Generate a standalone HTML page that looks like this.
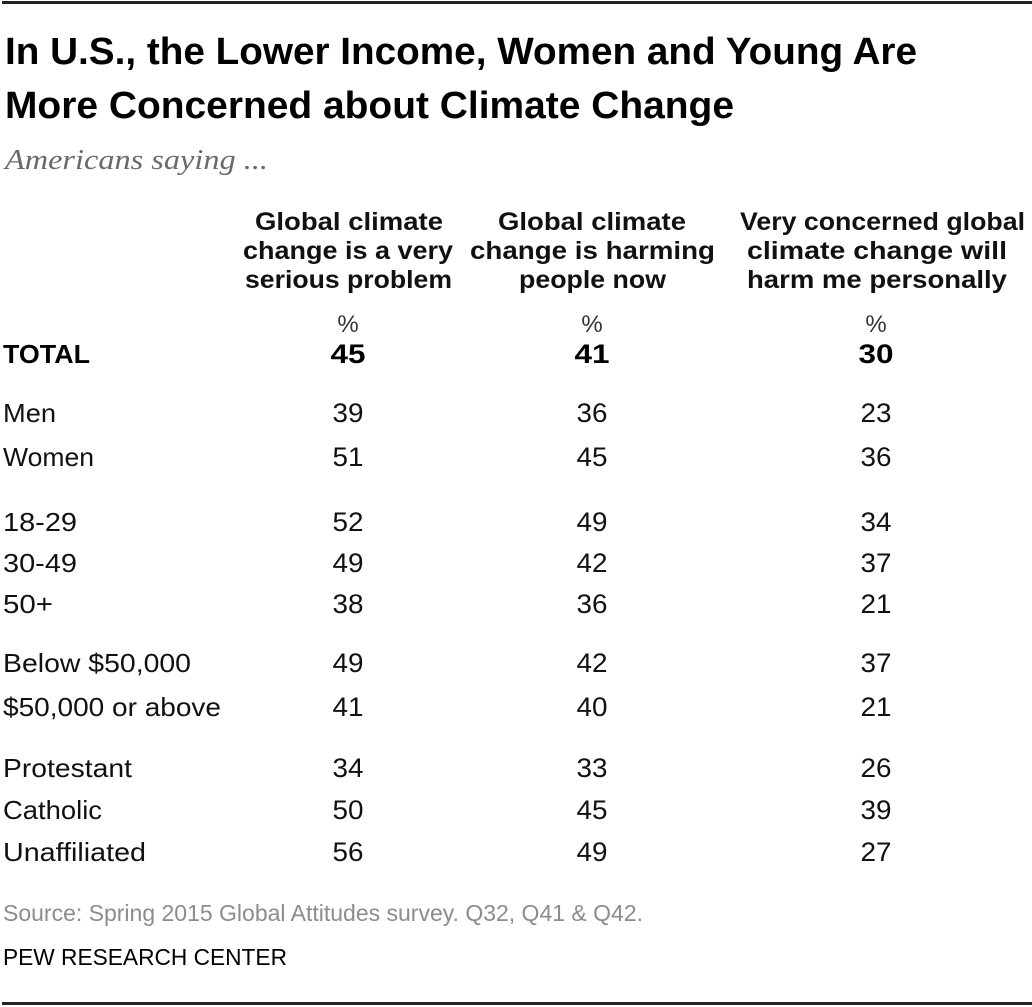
<!DOCTYPE html>
<html>
<head>
<meta charset="utf-8">
<style>
  html,body{margin:0;padding:0;background:#fff;}
  svg{display:block;}
  .t{font-family:"Liberation Sans",Arial,sans-serif;font-weight:bold;fill:#000;}
  .sub{font-family:"Liberation Serif",Georgia,serif;font-style:italic;fill:#6a6a6a;}
  .h{font-family:"Liberation Sans",Arial,sans-serif;font-weight:bold;fill:#111;font-size:25px;}
  .pc{font-family:"Liberation Sans",Arial,sans-serif;fill:#333;font-size:24px;}
  .l{font-family:"Liberation Sans",Arial,sans-serif;fill:#111;font-size:26px;}
  .v{font-family:"Liberation Sans",Arial,sans-serif;fill:#111;font-size:27px;}
  .b{font-weight:bold;fill:#000;}
  .src{font-family:"Liberation Sans",Arial,sans-serif;fill:#8c8c8c;font-size:23px;}
  .pew{font-family:"Liberation Sans",Arial,sans-serif;fill:#000;font-size:23px;}
</style>
</head>
<body>
<svg width="1032" height="1007" viewBox="0 0 1032 1007" xmlns="http://www.w3.org/2000/svg">
  <rect x="0" y="0" width="1032" height="1007" fill="#fff"/>
  <rect x="2" y="1" width="1030" height="3" fill="#222"/>
  <rect x="2" y="1002" width="1030" height="3" fill="#222"/>

  <text class="t" x="5" y="64" font-size="38" textLength="912" lengthAdjust="spacingAndGlyphs">In U.S., the Lower Income, Women and Young Are</text>
  <text class="t" x="5" y="118" font-size="38" textLength="729" lengthAdjust="spacingAndGlyphs">More Concerned about Climate Change</text>
  <text class="sub" x="5" y="169" font-size="28" textLength="263" lengthAdjust="spacingAndGlyphs">Americans saying ...</text>

  <text class="h" x="255" y="230" textLength="188" lengthAdjust="spacingAndGlyphs">Global climate</text>
  <text class="h" x="243" y="259" textLength="210" lengthAdjust="spacingAndGlyphs">change is a very</text>
  <text class="h" x="245" y="288" textLength="207" lengthAdjust="spacingAndGlyphs">serious problem</text>

  <text class="h" x="498" y="230" textLength="188" lengthAdjust="spacingAndGlyphs">Global climate</text>
  <text class="h" x="470" y="259" textLength="245" lengthAdjust="spacingAndGlyphs">change is harming</text>
  <text class="h" x="519" y="288" textLength="147" lengthAdjust="spacingAndGlyphs">people now</text>

  <text class="h" x="740" y="230" textLength="285" lengthAdjust="spacingAndGlyphs">Very concerned global</text>
  <text class="h" x="747" y="259" textLength="260" lengthAdjust="spacingAndGlyphs">climate change will</text>
  <text class="h" x="747" y="288" textLength="260" lengthAdjust="spacingAndGlyphs">harm me personally</text>

  <text class="pc" x="348" y="332" text-anchor="middle">%</text>
  <text class="pc" x="592" y="332" text-anchor="middle">%</text>
  <text class="pc" x="876" y="332" text-anchor="middle">%</text>

  <text class="l b" x="3" y="363" textLength="87" lengthAdjust="spacingAndGlyphs">TOTAL</text>
  <text class="v b" x="348" y="363" text-anchor="middle" textLength="35" lengthAdjust="spacingAndGlyphs">45</text>
  <text class="v b" x="592" y="363" text-anchor="middle" textLength="35" lengthAdjust="spacingAndGlyphs">41</text>
  <text class="v b" x="876" y="363" text-anchor="middle" textLength="35" lengthAdjust="spacingAndGlyphs">30</text>

  <g>
    <text class="l" x="3" y="422" textLength="53" lengthAdjust="spacingAndGlyphs">Men</text>
    <text class="v" x="348" y="422" text-anchor="middle" textLength="31" lengthAdjust="spacingAndGlyphs">39</text>
    <text class="v" x="592" y="422" text-anchor="middle" textLength="31" lengthAdjust="spacingAndGlyphs">36</text>
    <text class="v" x="876" y="422" text-anchor="middle" textLength="31" lengthAdjust="spacingAndGlyphs">23</text>

    <text class="l" x="3" y="466" textLength="91" lengthAdjust="spacingAndGlyphs">Women</text>
    <text class="v" x="348" y="466" text-anchor="middle" textLength="31" lengthAdjust="spacingAndGlyphs">51</text>
    <text class="v" x="592" y="466" text-anchor="middle" textLength="31" lengthAdjust="spacingAndGlyphs">45</text>
    <text class="v" x="876" y="466" text-anchor="middle" textLength="31" lengthAdjust="spacingAndGlyphs">36</text>

    <text class="l" x="3" y="531" textLength="74" lengthAdjust="spacingAndGlyphs">18-29</text>
    <text class="v" x="348" y="531" text-anchor="middle" textLength="31" lengthAdjust="spacingAndGlyphs">52</text>
    <text class="v" x="592" y="531" text-anchor="middle" textLength="31" lengthAdjust="spacingAndGlyphs">49</text>
    <text class="v" x="876" y="531" text-anchor="middle" textLength="31" lengthAdjust="spacingAndGlyphs">34</text>

    <text class="l" x="3" y="572" textLength="74" lengthAdjust="spacingAndGlyphs">30-49</text>
    <text class="v" x="348" y="572" text-anchor="middle" textLength="31" lengthAdjust="spacingAndGlyphs">49</text>
    <text class="v" x="592" y="572" text-anchor="middle" textLength="31" lengthAdjust="spacingAndGlyphs">42</text>
    <text class="v" x="876" y="572" text-anchor="middle" textLength="31" lengthAdjust="spacingAndGlyphs">37</text>

    <text class="l" x="3" y="613" textLength="50" lengthAdjust="spacingAndGlyphs">50+</text>
    <text class="v" x="348" y="613" text-anchor="middle" textLength="31" lengthAdjust="spacingAndGlyphs">38</text>
    <text class="v" x="592" y="613" text-anchor="middle" textLength="31" lengthAdjust="spacingAndGlyphs">36</text>
    <text class="v" x="876" y="613" text-anchor="middle" textLength="31" lengthAdjust="spacingAndGlyphs">21</text>

    <text class="l" x="3" y="672" textLength="188" lengthAdjust="spacingAndGlyphs">Below $50,000</text>
    <text class="v" x="348" y="672" text-anchor="middle" textLength="31" lengthAdjust="spacingAndGlyphs">49</text>
    <text class="v" x="592" y="672" text-anchor="middle" textLength="31" lengthAdjust="spacingAndGlyphs">42</text>
    <text class="v" x="876" y="672" text-anchor="middle" textLength="31" lengthAdjust="spacingAndGlyphs">37</text>

    <text class="l" x="3" y="716" textLength="218" lengthAdjust="spacingAndGlyphs">$50,000 or above</text>
    <text class="v" x="348" y="716" text-anchor="middle" textLength="31" lengthAdjust="spacingAndGlyphs">41</text>
    <text class="v" x="592" y="716" text-anchor="middle" textLength="31" lengthAdjust="spacingAndGlyphs">40</text>
    <text class="v" x="876" y="716" text-anchor="middle" textLength="31" lengthAdjust="spacingAndGlyphs">21</text>

    <text class="l" x="3" y="777" textLength="129" lengthAdjust="spacingAndGlyphs">Protestant</text>
    <text class="v" x="348" y="777" text-anchor="middle" textLength="31" lengthAdjust="spacingAndGlyphs">34</text>
    <text class="v" x="592" y="777" text-anchor="middle" textLength="31" lengthAdjust="spacingAndGlyphs">33</text>
    <text class="v" x="876" y="777" text-anchor="middle" textLength="31" lengthAdjust="spacingAndGlyphs">26</text>

    <text class="l" x="3" y="819" textLength="99" lengthAdjust="spacingAndGlyphs">Catholic</text>
    <text class="v" x="348" y="819" text-anchor="middle" textLength="31" lengthAdjust="spacingAndGlyphs">50</text>
    <text class="v" x="592" y="819" text-anchor="middle" textLength="31" lengthAdjust="spacingAndGlyphs">45</text>
    <text class="v" x="876" y="819" text-anchor="middle" textLength="31" lengthAdjust="spacingAndGlyphs">39</text>

    <text class="l" x="3" y="861" textLength="143" lengthAdjust="spacingAndGlyphs">Unaffiliated</text>
    <text class="v" x="348" y="861" text-anchor="middle" textLength="31" lengthAdjust="spacingAndGlyphs">56</text>
    <text class="v" x="592" y="861" text-anchor="middle" textLength="31" lengthAdjust="spacingAndGlyphs">49</text>
    <text class="v" x="876" y="861" text-anchor="middle" textLength="31" lengthAdjust="spacingAndGlyphs">27</text>
  </g>

  <text class="src" x="3" y="921" textLength="640" lengthAdjust="spacingAndGlyphs">Source: Spring 2015 Global Attitudes survey. Q32, Q41 &amp; Q42.</text>
  <text class="pew" x="3" y="965" textLength="284" lengthAdjust="spacingAndGlyphs">PEW RESEARCH CENTER</text>
</svg>
</body>
</html>
